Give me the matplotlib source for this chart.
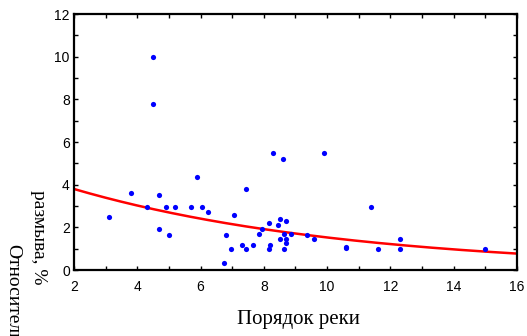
import numpy as np
import matplotlib.pyplot as plt
from matplotlib.ticker import MultipleLocator

# river order vs relative erosion, %
order = [4.5, 4.5, 8.3, 8.6, 9.9, 3.1, 3.8, 4.3, 4.7, 4.7, 4.9, 5.0, 5.2, 5.7, 5.9,
         6.05, 6.25, 6.75, 6.8, 6.95, 7.05, 7.3, 7.45, 7.45, 7.65, 7.85, 7.95, 8.15,
         8.15, 8.2, 8.45, 8.5, 8.5, 8.65, 8.65, 8.7, 8.7, 8.7, 8.85, 9.35, 9.6,
         10.6, 10.6, 11.4, 11.6, 12.3, 12.3, 15.0]
erosion = [10.0, 7.8, 5.5, 5.2, 5.5, 2.5, 3.6, 2.95, 1.9, 3.5, 2.95, 1.65, 2.95, 2.95, 4.35,
           2.95, 2.7, 0.35, 1.65, 1.0, 2.6, 1.15, 3.8, 1.0, 1.15, 1.7, 1.9, 2.2,
           1.0, 1.15, 2.1, 2.4, 1.45, 1.7, 1.0, 2.3, 1.45, 1.25, 1.7, 1.65, 1.45,
           1.1, 1.02, 2.95, 1.0, 1.45, 1.0, 1.0]

# exponential fit y = a * exp(-b x)
fit_a = 4.77
fit_b = 0.114

fig = plt.figure(figsize=(5.27, 3.36), dpi=100)
ax = fig.add_axes([0.1404, 0.1964, 0.8406, 0.7619])

ax.scatter(order, erosion, s=14, color='#0000ff', zorder=3, linewidths=0)
xs = np.linspace(2, 16, 200)
ax.plot(xs, fit_a * np.exp(-fit_b * xs), color='#ff0000', lw=1.8, zorder=2)

ax.set_xlim(2, 16)
ax.set_ylim(0, 12)
ax.xaxis.set_major_locator(MultipleLocator(2))
ax.xaxis.set_minor_locator(MultipleLocator(1))
ax.yaxis.set_major_locator(MultipleLocator(2))
ax.yaxis.set_minor_locator(MultipleLocator(1))
ax.tick_params(which='both', direction='in', top=True, right=True, length=3,
               width=1, labelsize=10, pad=3)
ax.tick_params(axis='x', pad=7)
for lab in ax.get_xticklabels() + ax.get_yticklabels():
    lab.set_family('Liberation Sans')
for sp in ax.spines.values():
    sp.set_linewidth(1.6)

fig.text(0.567, 0.048, 'Порядок реки', family='Liberation Serif', fontsize=15,
         ha='center', va='center')
fig.text(0.074, 0.293, 'размыва, %', family='Liberation Serif', fontsize=14,
         rotation=270, ha='center', va='center')
fig.text(0.025, 0.274, 'Относительная', family='Liberation Serif', fontsize=14,
         rotation=270, ha='center', va='top')

fig.savefig('out.png', dpi=100)
